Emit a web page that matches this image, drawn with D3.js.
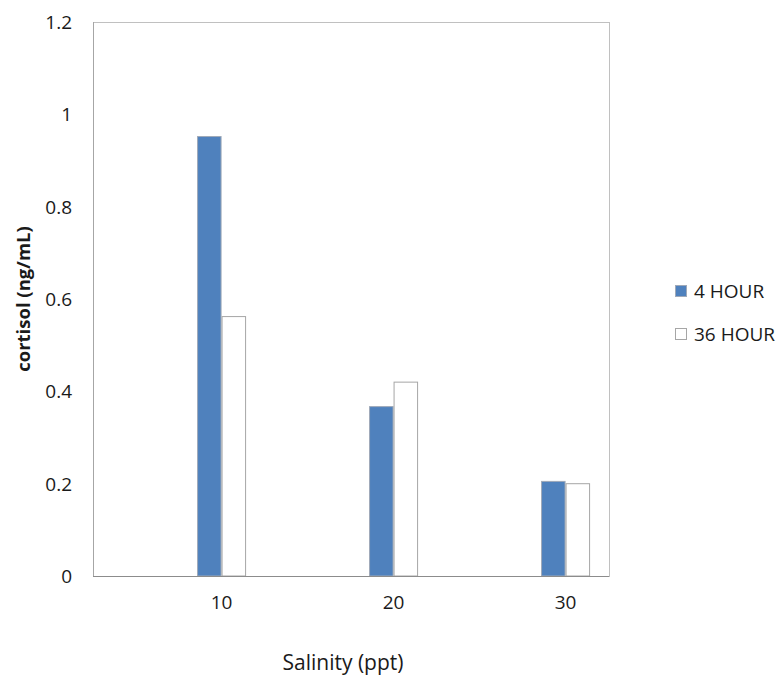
<!DOCTYPE html>
<html><head><meta charset="utf-8">
<script src="https://cdn.jsdelivr.net/npm/d3@7"></script>
<style>body{margin:0;background:#fff;} text{font-family:"Open Sans",sans-serif;fill:#1a1a1a;}</style>
</head><body>
<svg id="c" width="778" height="675"></svg>
<script>
const categories = ["10", "20", "30"];
const seriesNames = ["4 HOUR", "36 HOUR"];
const values4h = [0.953, 0.368, 0.206];
const values36h = [0.563, 0.421, 0.201];
const yTicks = [0, 0.2, 0.4, 0.6, 0.8, 1, 1.2];
const yTickLabels = ["0", "0.2", "0.4", "0.6", "0.8", "1", "1.2"];
const seriesColors = ["#4f81bd", "#ffffff"];
const seriesStrokes = ["#9fa9b8", "#a6a6a6"];

const svg = d3.select("#c");
const pLeft = 93, pRight = 609, pTop = 22, pBottom = 576;

const x = d3.scaleBand().domain(categories).range([pLeft, pRight]).padding(0);
const bw = x.bandwidth();
const x1 = d3.scaleBand().domain(seriesNames).range([bw * 0.605, bw * 0.89]).padding(0);
const y = d3.scaleLinear().domain([0, 1.2]).range([pBottom, pTop]);

// plot frame
svg.append("rect").attr("x", pLeft + 0.5).attr("y", pTop + 0.5).attr("width", pRight - pLeft).attr("height", pBottom - pTop)
  .attr("fill", "none").attr("stroke", "#c0c0c0").attr("stroke-width", 1);

const data = categories.map((c, i) => ({cat: c, vals: [values4h[i], values36h[i]]}));
const g = svg.append("g");
data.forEach(d => {
  d.vals.forEach((v, si) => {
    g.append("rect")
      .attr("x", x(d.cat) + x1(seriesNames[si]) + 0.5)
      .attr("y", y(v) + 0.5)
      .attr("width", x1.bandwidth() - 1)
      .attr("height", y(0) - y(v) - 0.5)
      .attr("fill", seriesColors[si])
      .attr("stroke", seriesStrokes[si])
      .attr("stroke-width", 1);
  });
});

// bottom axis line
svg.append("line").attr("x1", pLeft).attr("x2", pRight).attr("y1", pBottom + 0.5).attr("y2", pBottom + 0.5)
  .attr("stroke", "#8c8c8c").attr("stroke-width", 1.2);
// left axis line
svg.append("line").attr("x1", pLeft + 0.5).attr("x2", pLeft + 0.5).attr("y1", pTop).attr("y2", pBottom)
  .attr("stroke", "#a6a6a6").attr("stroke-width", 1);

// y axis
const yAxis = d3.axisLeft(y).tickValues(yTicks).tickSize(0).tickPadding(0)
  .tickFormat((d, i) => yTickLabels[i]);
const ya = svg.append("g").attr("transform", `translate(72,0)`).call(yAxis);
ya.select(".domain").remove();
ya.selectAll("text").style("font-family", "'Open Sans',sans-serif").style("font-size", "19px").attr("fill", "#1a1a1a").attr("dy", "0.35em");

// x axis (labels at bar pair boundary)
const labelOffset = x1("36 HOUR") - bw / 2;
const xAxis = d3.axisBottom(x).tickSize(0).tickPadding(0);
const xa = svg.append("g").attr("transform", `translate(${labelOffset},${pBottom + 20})`).call(xAxis);
xa.select(".domain").remove();
xa.selectAll("text").style("font-family", "'Open Sans',sans-serif").style("font-size", "19px").attr("fill", "#1a1a1a").attr("dy", "0.68em");

// axis titles
svg.append("text").attr("x", 343).attr("y", 670).attr("text-anchor", "middle")
  .style("font-size", "21px").text("Salinity (ppt)");
svg.append("text").attr("transform", "translate(30,299) rotate(-90)").attr("text-anchor", "middle")
  .style("font-size", "18.5px").style("font-weight", "bold").text("cortisol (ng/mL)");

// legend
const leg = svg.append("g");
seriesNames.forEach((s, i) => {
  const ly = 285 + i * 43;
  leg.append("rect").attr("x", 675.5).attr("y", ly + 0.5).attr("width", 11).attr("height", 11)
    .attr("fill", seriesColors[i]).attr("stroke", seriesStrokes[i]);
  leg.append("text").attr("x", 694).attr("y", ly + 6).attr("dy", "0.35em")
    .style("font-size", "19px").text(s);
});
</script>
</body></html>
